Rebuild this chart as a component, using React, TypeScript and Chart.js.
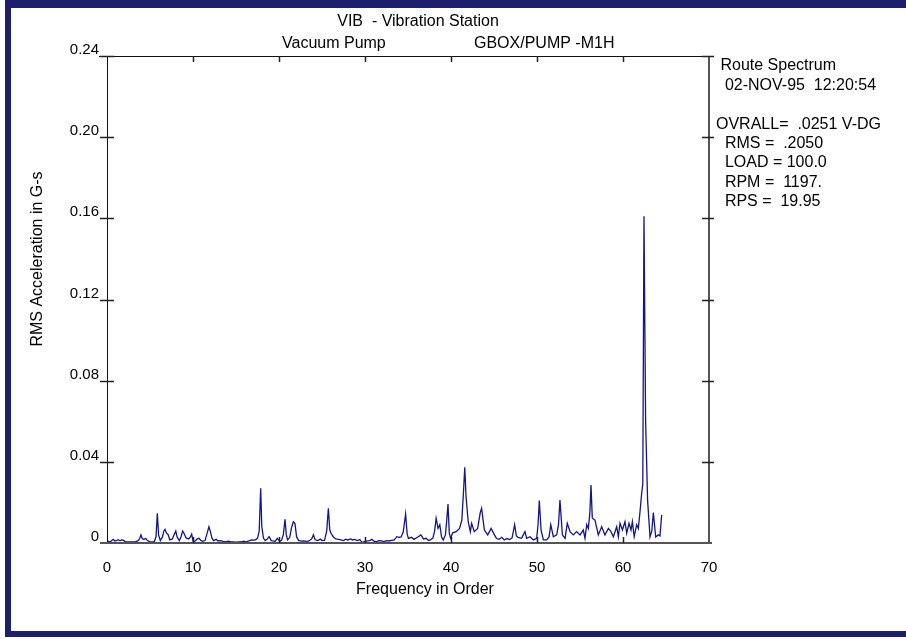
import React, { useEffect, useRef } from 'react';
import { Chart, registerables } from 'chart.js';

Chart.register(...registerables);

// ---- data ----
const orders = [
  0.0, 0.2, 0.4, 0.55, 0.75, 0.9, 1.1, 1.3, 1.5, 1.7, 1.9, 2.1, 2.4, 2.7, 3.0, 3.3, 3.6, 3.8, 3.95, 4.1,
  4.3, 4.5, 4.7, 4.95, 5.2, 5.5, 5.7, 5.85, 6.0, 6.2, 6.45, 6.6, 6.75, 6.9, 7.1, 7.3, 7.6, 7.85, 8.0, 8.15,
  8.4, 8.6, 8.8, 8.95, 9.2, 9.5, 9.7, 9.85, 10.0, 10.2, 10.5, 10.7, 10.9, 11.1, 11.4, 11.65, 11.85, 12.0, 12.2, 12.4,
  12.7, 12.9, 13.2, 13.5, 13.8, 14.1, 14.4, 14.7, 15.0, 15.3, 15.6, 15.9, 16.2, 16.5, 16.8, 17.1, 17.3, 17.5, 17.7, 17.87,
  18.0, 18.2, 18.4, 18.6, 18.85, 19.1, 19.3, 19.55, 19.8, 20.1, 20.3, 20.5, 20.7, 20.85, 21.0, 21.25, 21.45, 21.67, 21.85, 22.05,
  22.3, 22.6, 22.9, 23.2, 23.5, 23.8, 24.0, 24.2, 24.5, 24.8, 25.0, 25.3, 25.55, 25.74, 25.9, 26.05, 26.3, 26.6, 26.9, 27.2,
  27.5, 27.75, 28.0, 28.3, 28.55, 28.8, 29.1, 29.4, 29.6, 29.8, 30.0, 30.3, 30.55, 30.8, 31.0, 31.3, 31.6, 31.9, 32.2, 32.5,
  32.8, 33.1, 33.4, 33.7, 33.95, 34.2, 34.45, 34.72, 34.9, 35.05, 35.4, 35.7, 36.1, 36.5, 36.8, 37.1, 37.4, 37.6, 37.9, 38.1,
  38.27, 38.5, 38.7, 38.9, 39.1, 39.35, 39.5, 39.65, 39.8, 39.95, 40.2, 40.6, 40.99, 41.26, 41.45, 41.6, 41.75, 42.0, 42.25, 42.4,
  42.7, 43.1, 43.4, 43.56, 43.88, 44.27, 44.66, 45.05, 45.3, 45.6, 45.9, 46.2, 46.5, 46.8, 47.1, 47.4, 47.6, 47.8, 48.2, 48.6,
  48.8, 49.19, 49.57, 49.96, 50.12, 50.27, 50.47, 50.74, 51.13, 51.4, 51.6, 51.9, 52.29, 52.5, 52.67, 52.95, 53.26, 53.52, 53.84, 54.22,
  54.6, 55.0, 55.38, 55.58, 55.78, 55.97, 56.15, 56.28, 56.43, 56.74, 57.13, 57.52, 57.9, 58.3, 58.6, 58.88, 59.27, 59.46, 59.65, 59.93,
  60.23, 60.43, 60.7, 60.93, 61.09, 61.3, 61.59, 61.78, 61.98, 62.17, 62.3, 62.44, 62.63, 62.86, 63.14, 63.35, 63.53, 63.8, 64.1, 64.3,
  64.5,
];

const amplitudes = [
  0.0010, 0.0008, 0.0006, 0.0012, 0.0018, 0.0010, 0.0012, 0.0016, 0.0011, 0.0015, 0.0014, 0.0007, 0.0005, 0.0006, 0.0005, 0.0007, 0.0010, 0.0022, 0.0040, 0.0022,
  0.0017, 0.0023, 0.0012, 0.0007, 0.0006, 0.0007, 0.0030, 0.0146, 0.0040, 0.0012, 0.0030, 0.0058, 0.0067, 0.0050, 0.0042, 0.0015, 0.0020, 0.0045, 0.0059, 0.0030,
  0.0012, 0.0030, 0.0059, 0.0048, 0.0025, 0.0020, 0.0030, 0.0044, 0.0010, 0.0008, 0.0020, 0.0023, 0.0014, 0.0008, 0.0012, 0.0050, 0.0080, 0.0060, 0.0025, 0.0012,
  0.0018, 0.0010, 0.0012, 0.0008, 0.0006, 0.0009, 0.0005, 0.0006, 0.0004, 0.0006, 0.0005, 0.0009, 0.0006, 0.0010, 0.0015, 0.0014, 0.0016, 0.0023, 0.0060, 0.0270,
  0.0080, 0.0023, 0.0012, 0.0018, 0.0031, 0.0012, 0.0010, 0.0008, 0.0023, 0.0008, 0.0014, 0.0040, 0.0117, 0.0040, 0.0015, 0.0028, 0.0075, 0.0105, 0.0097, 0.0030,
  0.0012, 0.0009, 0.0010, 0.0008, 0.0010, 0.0020, 0.0040, 0.0016, 0.0012, 0.0019, 0.0012, 0.0014, 0.0060, 0.0171, 0.0065, 0.0048, 0.0031, 0.0020, 0.0018, 0.0015,
  0.0012, 0.0019, 0.0015, 0.0020, 0.0015, 0.0018, 0.0012, 0.0017, 0.0006, 0.0003, 0.0008, 0.0010, 0.0012, 0.0018, 0.0010, 0.0006, 0.0012, 0.0010, 0.0007, 0.0012,
  0.0010, 0.0013, 0.0015, 0.0031, 0.0028, 0.0030, 0.0055, 0.0143, 0.0045, 0.0023, 0.0028, 0.0018, 0.0028, 0.0040, 0.0020, 0.0023, 0.0012, 0.0015, 0.0025, 0.0060,
  0.0122, 0.0072, 0.0090, 0.0030, 0.0015, 0.0040, 0.0110, 0.0192, 0.0050, 0.0023, 0.0050, 0.0056, 0.0072, 0.0113, 0.0250, 0.0373, 0.0228, 0.0105, 0.0056, 0.0097,
  0.0056, 0.0072, 0.0150, 0.0171, 0.0064, 0.0040, 0.0072, 0.0040, 0.0022, 0.0018, 0.0028, 0.0015, 0.0022, 0.0017, 0.0025, 0.0090, 0.0035, 0.0028, 0.0023, 0.0056,
  0.0023, 0.0031, 0.0015, 0.0023, 0.0090, 0.0209, 0.0064, 0.0015, 0.0015, 0.0030, 0.0090, 0.0031, 0.0040, 0.0090, 0.0212, 0.0040, 0.0023, 0.0097, 0.0056, 0.0040,
  0.0056, 0.0040, 0.0064, 0.0023, 0.0090, 0.0072, 0.0150, 0.0286, 0.0122, 0.0113, 0.0040, 0.0080, 0.0040, 0.0072, 0.0056, 0.0031, 0.0080, 0.0031, 0.0097, 0.0064,
  0.0105, 0.0048, 0.0097, 0.0064, 0.0105, 0.0031, 0.0090, 0.0072, 0.0155, 0.0245, 0.0290, 0.1610, 0.0600, 0.0210, 0.0030, 0.0060, 0.0150, 0.0030, 0.0040, 0.0035,
  0.0138,
];

const xTickValues = [0, 10, 20, 30, 40, 50, 60, 70];
const yTickValues = [0, 0.04, 0.08, 0.12, 0.16, 0.2, 0.24];

const titleMain = 'VIB  - Vibration Station';
const titleLeft = 'Vacuum Pump';
const titleRight = 'GBOX/PUMP -M1H';
const xAxisTitle = 'Frequency in Order';
const yAxisTitle = 'RMS Acceleration in G-s';
const infoLines = [
  ' Route Spectrum',
  '  02-NOV-95  12:20:54',
  '',
  'OVRALL=  .0251 V-DG',
  '  RMS =  .2050',
  '  LOAD = 100.0',
  '  RPM =  1197.',
  '  RPS =  19.95',
];

const FONT_FAMILY = '"Liberation Sans", Arial, sans-serif';
const FRAME_COLOR = '#1e1e6e';
const LINE_COLOR = '#14148c';

const decorPlugin = {
  id: 'decor',
  beforeDraw(chart: any) {
    const ctx = chart.ctx;
    ctx.save();
    ctx.fillStyle = '#ffffff';
    ctx.fillRect(0, 0, chart.width, chart.height);
    ctx.fillStyle = FRAME_COLOR;
    ctx.fillRect(5, 0, 901, 8);
    ctx.fillRect(5, 0, 6, 637);
    ctx.fillRect(5, 631, 901, 6);
    ctx.restore();
  },
  afterDraw(chart: any) {
    const ctx = chart.ctx;
    const { left, right, top, bottom } = chart.chartArea;
    const xs = chart.scales.x;
    const ys = chart.scales.y;
    ctx.save();

    // left and top axis lines (black)
    ctx.strokeStyle = '#111';
    ctx.lineWidth = 1;
    ctx.beginPath();
    ctx.moveTo(left + 0.5, top);
    ctx.lineTo(left + 0.5, bottom);
    ctx.moveTo(left - 8, top + 0.5);
    ctx.lineTo(right, top + 0.5);
    ctx.stroke();

    // right and bottom axis lines (grey, thicker)
    ctx.strokeStyle = '#555';
    ctx.lineWidth = 2;
    ctx.beginPath();
    ctx.moveTo(right, top);
    ctx.lineTo(right, bottom);
    ctx.moveTo(left - 7, bottom);
    ctx.lineTo(right + 3, bottom);
    ctx.stroke();

    // y ticks crossing left and right axes
    ctx.strokeStyle = '#222';
    ctx.lineWidth = 1.5;
    ctx.beginPath();
    ys.ticks.forEach((t: any) => {
      if (t.value === 0) return;
      const py = Math.round(ys.getPixelForValue(t.value)) + 0.5;
      ctx.moveTo(left - 7, py);
      ctx.lineTo(left + 7, py);
      ctx.moveTo(right - 7, py);
      ctx.lineTo(right + 5, py);
    });
    // x ticks: upward on bottom, downward on top
    xs.ticks.forEach((t: any) => {
      if (t.value === 0 || t.value === 70) return;
      const px = Math.round(xs.getPixelForValue(t.value)) + 0.5;
      ctx.moveTo(px, bottom);
      ctx.lineTo(px, bottom - 6);
      ctx.moveTo(px, top);
      ctx.lineTo(px, top + 6);
    });
    ctx.stroke();

    // texts
    ctx.fillStyle = '#000';
    ctx.font = `16px ${FONT_FAMILY}`;
    ctx.textBaseline = 'middle';
    ctx.textAlign = 'center';
    ctx.fillText(titleMain, 418, 22);
    ctx.textAlign = 'left';
    ctx.fillText(titleLeft, 282, 44);
    ctx.fillText(titleRight, 474, 44);

    infoLines.forEach((line, i) => {
      if (line) ctx.fillText(line, 716, 66 + i * 19.4);
    });

    ctx.textAlign = 'center';
    ctx.fillText(xAxisTitle, 425, 590);
    ctx.translate(38, 259);
    ctx.rotate(-Math.PI / 2);
    ctx.fillText(yAxisTitle, 0, 0);
    ctx.restore();
  },
};

export default function App() {
  const canvasRef = useRef<HTMLCanvasElement | null>(null);

  useEffect(() => {
    const canvas = canvasRef.current;
    if (!canvas) return;
    const points = orders.map((o, i) => ({ x: o, y: amplitudes[i] }));
    const chart = new Chart(canvas, {
      type: 'line',
      data: {
        datasets: [
          {
            data: points,
            borderColor: LINE_COLOR,
            borderWidth: 1.3,
            pointRadius: 0,
            tension: 0,
            fill: false,
          },
        ],
      },
      options: {
        responsive: false,
        animation: false,
        devicePixelRatio: 1,
        layout: { padding: { left: 0, top: 56, right: 197, bottom: 0 } },
        plugins: {
          legend: { display: false },
          tooltip: { enabled: false },
          title: { display: false },
        },
        scales: {
          x: {
            type: 'linear',
            min: 0,
            max: 70,
            afterBuildTicks: (s: any) => {
              s.ticks = xTickValues.map((v) => ({ value: v }));
            },
            afterFit: (s: any) => {
              s.height = 96;
            },
            grid: { display: false, drawTicks: false },
            border: { display: false },
            ticks: {
              color: '#000',
              font: { family: FONT_FAMILY, size: 15 },
              padding: 16,
              maxRotation: 0,
              autoSkip: false,
              callback: (v: any) => String(v),
            },
          },
          y: {
            type: 'linear',
            min: 0,
            max: 0.24,
            afterBuildTicks: (s: any) => {
              s.ticks = yTickValues.map((v) => ({ value: v }));
            },
            afterFit: (s: any) => {
              s.width = 107;
            },
            grid: { display: false, drawTicks: false },
            border: { display: false },
            ticks: {
              color: '#000',
              font: { family: FONT_FAMILY, size: 15 },
              padding: 8,
              labelOffset: -6,
              autoSkip: false,
              callback: (v: any) => (Number(v) === 0 ? '0' : Number(v).toFixed(2)),
            },
          },
        },
      },
      plugins: [decorPlugin],
    });
    return () => chart.destroy();
  }, []);

  return (
    <div style={{ position: 'absolute', left: 0, top: 0, width: 906, height: 639 }}>
      <canvas ref={canvasRef} width={906} height={639} style={{ display: 'block' }} />
    </div>
  );
}
